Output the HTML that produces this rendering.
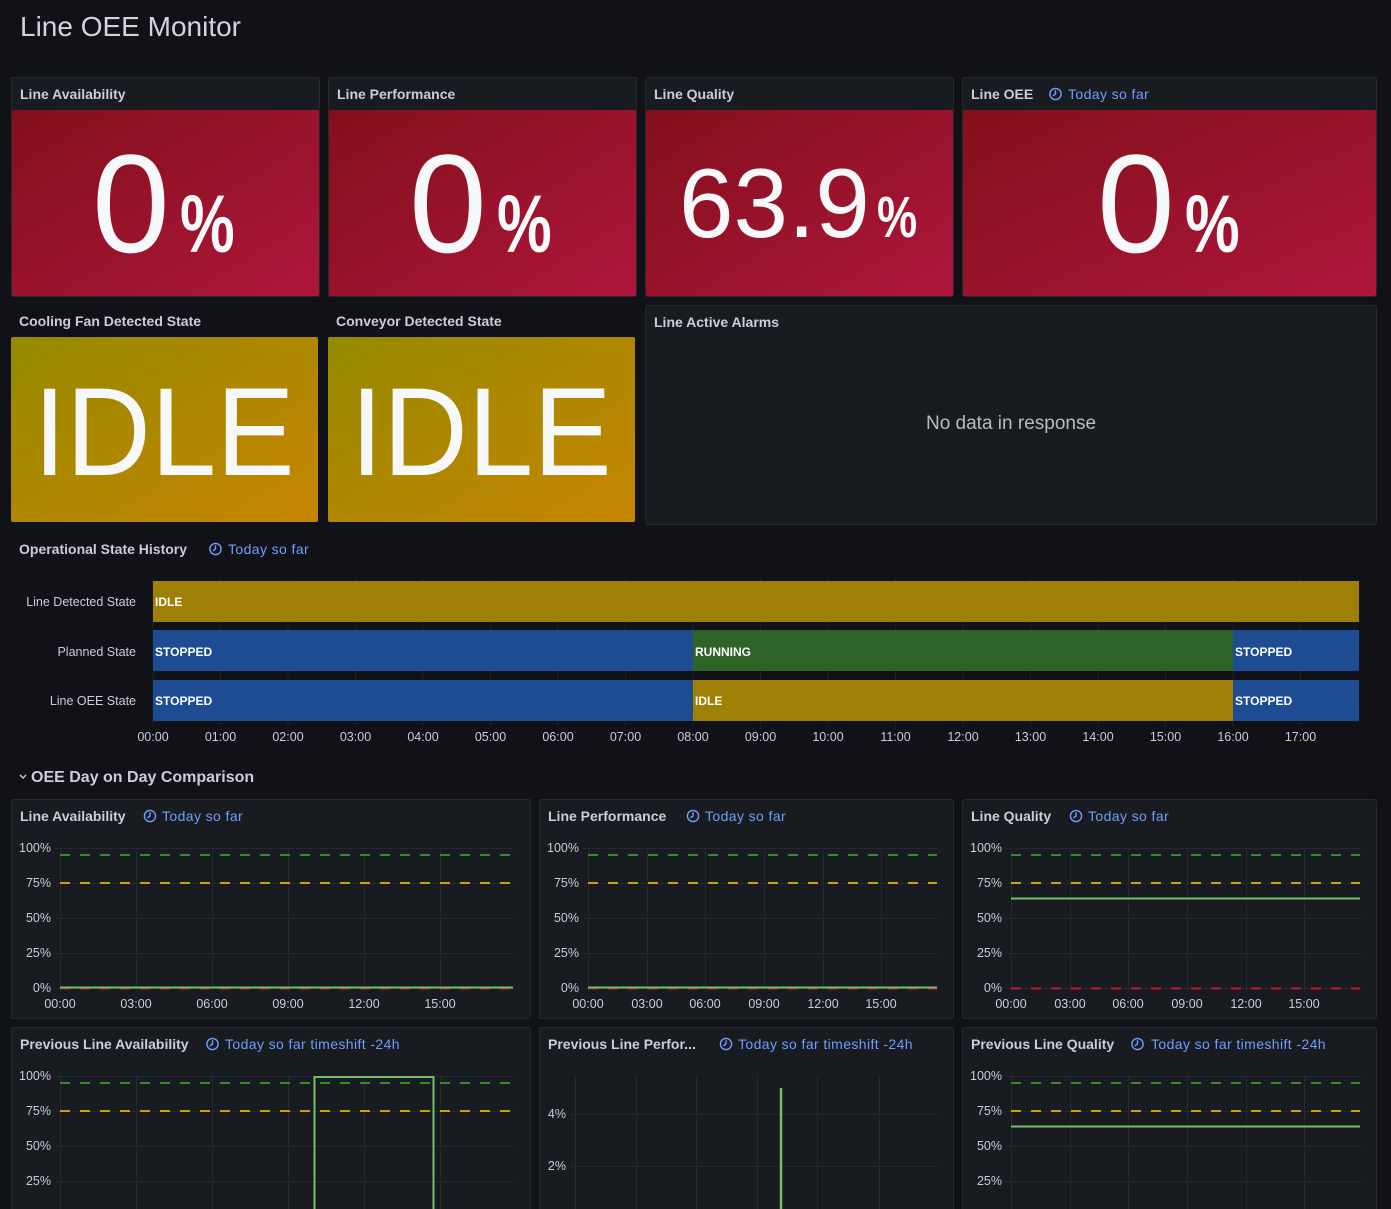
<!DOCTYPE html>
<html>
<head>
<meta charset="utf-8">
<style>
  html, body { margin:0; padding:0; background:#111217; }
  body { width:1391px; height:1209px; overflow:hidden; }
  svg { display:block; }
  text { font-family: "Liberation Sans", "DejaVu Sans", sans-serif; }
</style>
</head>
<body>
<svg width="1391" height="1209" viewBox="0 0 1391 1209" xmlns="http://www.w3.org/2000/svg">
  <defs>
    <linearGradient id="red" x1="0" y1="0" x2="1" y2="1">
      <stop offset="0" stop-color="#82101a"/>
      <stop offset="1" stop-color="#ae163c"/>
    </linearGradient>
    <linearGradient id="yel" x1="0" y1="0" x2="1" y2="1">
      <stop offset="0" stop-color="#958a00"/>
      <stop offset="1" stop-color="#c78500"/>
    </linearGradient>
    <g id="clk">
      <circle cx="0" cy="0" r="5.6" fill="none" stroke="#6e9fff" stroke-width="1.4"/>
      <path d="M0,-3.2 V0 L-2.2,1.6" fill="none" stroke="#6e9fff" stroke-width="1.4" stroke-linecap="round"/>
    </g>
  </defs>

  <rect x="0" y="0" width="1391" height="1209" fill="#111217"/>

  <!-- Title -->
  <text x="20" y="36" font-size="28" fill="#d3d3de">Line OEE Monitor</text>

  <!-- Row 1 stat panels -->
  <g>
    <rect x="11.5" y="77.5" width="308" height="219" rx="2" fill="#181b1f" stroke="#26282d"/>
    <rect x="12" y="110" width="307" height="186" rx="2" fill="url(#red)"/>
    <text x="20" y="99" font-size="14" font-weight="bold" fill="#ccccdc">Line Availability</text>
    <text x="92" y="252" font-size="140" fill="#f7f8fa">0</text>
    <text transform="translate(180,252) scale(0.75,1)" font-size="82" font-weight="bold" fill="#f7f8fa">%</text>

    <rect x="328.5" y="77.5" width="308" height="219" rx="2" fill="#181b1f" stroke="#26282d"/>
    <rect x="329" y="110" width="307" height="186" rx="2" fill="url(#red)"/>
    <text x="337" y="99" font-size="14" font-weight="bold" fill="#ccccdc">Line Performance</text>
    <text x="409" y="252" font-size="140" fill="#f7f8fa">0</text>
    <text transform="translate(497,252) scale(0.75,1)" font-size="82" font-weight="bold" fill="#f7f8fa">%</text>

    <rect x="645.5" y="77.5" width="308" height="219" rx="2" fill="#181b1f" stroke="#26282d"/>
    <rect x="646" y="110" width="307" height="186" rx="2" fill="url(#red)"/>
    <text x="654" y="99" font-size="14" font-weight="bold" fill="#ccccdc">Line Quality</text>
    <text x="679" y="237" font-size="98" fill="#f7f8fa">63.9</text>
    <text transform="translate(877,237) scale(0.78,1)" font-size="58" font-weight="bold" fill="#f7f8fa">%</text>

    <rect x="962.5" y="77.5" width="414" height="219" rx="2" fill="#181b1f" stroke="#26282d"/>
    <rect x="963" y="110" width="413" height="186" rx="2" fill="url(#red)"/>
    <text x="971" y="99" font-size="14" font-weight="bold" fill="#ccccdc">Line OEE</text>
    <use href="#clk" x="1055.5" y="94"/>
    <text x="1068" y="99" font-size="14" fill="#6e9fff" letter-spacing="0.4">Today so far</text>
    <text x="1097" y="252" font-size="140" fill="#f7f8fa">0</text>
    <text transform="translate(1185,252) scale(0.75,1)" font-size="82" font-weight="bold" fill="#f7f8fa">%</text>
  </g>

  <!-- Row 2 -->
  <g>
    <text x="19" y="326" font-size="14" font-weight="bold" fill="#ccccdc">Cooling Fan Detected State</text>
    <rect x="11" y="337" width="307" height="185" rx="2" fill="url(#yel)"/>
    <text transform="translate(164,475) scale(0.94,1)" text-anchor="middle" font-size="125" fill="#f7f8fa">IDLE</text>

    <text x="336" y="326" font-size="14" font-weight="bold" fill="#ccccdc">Conveyor Detected State</text>
    <rect x="328" y="337" width="307" height="185" rx="2" fill="url(#yel)"/>
    <text transform="translate(481,475) scale(0.94,1)" text-anchor="middle" font-size="125" fill="#f7f8fa">IDLE</text>

    <rect x="645.5" y="305.5" width="731" height="219" rx="2" fill="#181b1f" stroke="#26282d"/>
    <text x="654" y="327" font-size="14" font-weight="bold" fill="#ccccdc">Line Active Alarms</text>
    <text x="1011" y="429" text-anchor="middle" font-size="19" fill="#b9bac2">No data in response</text>
  </g>

  <!-- Operational State History -->
  <g>
    <text x="19" y="554" font-size="14" font-weight="bold" fill="#ccccdc">Operational State History</text>
    <use href="#clk" x="215.5" y="549"/>
    <text x="228" y="554" font-size="14" fill="#6e9fff" letter-spacing="0.4">Today so far</text>

    <g stroke="#1e2025" stroke-width="1">
      <line x1="153" y1="578" x2="153" y2="727"/>
      <line x1="220.5" y1="578" x2="220.5" y2="727"/>
      <line x1="288" y1="578" x2="288" y2="727"/>
      <line x1="355.5" y1="578" x2="355.5" y2="727"/>
      <line x1="423" y1="578" x2="423" y2="727"/>
      <line x1="490.5" y1="578" x2="490.5" y2="727"/>
      <line x1="558" y1="578" x2="558" y2="727"/>
      <line x1="625.5" y1="578" x2="625.5" y2="727"/>
      <line x1="693" y1="578" x2="693" y2="727"/>
      <line x1="760.5" y1="578" x2="760.5" y2="727"/>
      <line x1="828" y1="578" x2="828" y2="727"/>
      <line x1="895.5" y1="578" x2="895.5" y2="727"/>
      <line x1="963" y1="578" x2="963" y2="727"/>
      <line x1="1030.5" y1="578" x2="1030.5" y2="727"/>
      <line x1="1098" y1="578" x2="1098" y2="727"/>
      <line x1="1165.5" y1="578" x2="1165.5" y2="727"/>
      <line x1="1233" y1="578" x2="1233" y2="727"/>
      <line x1="1300.5" y1="578" x2="1300.5" y2="727"/>
    </g>

    <rect x="153" y="581" width="1206" height="41" fill="#a07f06"/>
    <rect x="153" y="630" width="540" height="41" fill="#1e4c93"/>
    <rect x="693" y="630" width="540" height="41" fill="#2e6327"/>
    <rect x="1233" y="630" width="126" height="41" fill="#1e4c93"/>
    <rect x="153" y="680" width="540" height="41" fill="#1e4c93"/>
    <rect x="693" y="680" width="540" height="41" fill="#a07f06"/>
    <rect x="1233" y="680" width="126" height="41" fill="#1e4c93"/>

    <g font-size="12" font-weight="bold" fill="#ffffff">
      <text x="155" y="606">IDLE</text>
      <text x="155" y="656">STOPPED</text>
      <text x="695" y="656">RUNNING</text>
      <text x="1235" y="656">STOPPED</text>
      <text x="155" y="705">STOPPED</text>
      <text x="695" y="705">IDLE</text>
      <text x="1235" y="705">STOPPED</text>
    </g>

    <g font-size="12.5" fill="#ccccdc" text-anchor="end">
      <text x="136" y="606">Line Detected State</text>
      <text x="136" y="656">Planned State</text>
      <text x="136" y="705">Line OEE State</text>
    </g>

    <g font-size="12.5" fill="#ccccdc" text-anchor="middle">
      <text x="153" y="741">00:00</text>
      <text x="220.5" y="741">01:00</text>
      <text x="288" y="741">02:00</text>
      <text x="355.5" y="741">03:00</text>
      <text x="423" y="741">04:00</text>
      <text x="490.5" y="741">05:00</text>
      <text x="558" y="741">06:00</text>
      <text x="625.5" y="741">07:00</text>
      <text x="693" y="741">08:00</text>
      <text x="760.5" y="741">09:00</text>
      <text x="828" y="741">10:00</text>
      <text x="895.5" y="741">11:00</text>
      <text x="963" y="741">12:00</text>
      <text x="1030.5" y="741">13:00</text>
      <text x="1098" y="741">14:00</text>
      <text x="1165.5" y="741">15:00</text>
      <text x="1233" y="741">16:00</text>
      <text x="1300.5" y="741">17:00</text>
    </g>
  </g>

  <!-- Section header -->
  <path d="M20,775 L23,778 L26,775" fill="none" stroke="#ccccdc" stroke-width="1.4"/>
  <text x="31" y="782" font-size="16" font-weight="bold" fill="#ccccdc">OEE Day on Day Comparison</text>

  <!-- ============ Row A charts ============ -->
  <!-- C1 Line Availability -->
  <g>
    <rect x="11.5" y="799.5" width="519" height="219" rx="2" fill="#181b1f" stroke="#26282d"/>
    <text x="20" y="821" font-size="14" font-weight="bold" fill="#ccccdc">Line Availability</text>
    <use href="#clk" x="150" y="816"/>
    <text x="162" y="821" font-size="14" fill="#6e9fff" letter-spacing="0.4">Today so far</text>
    <g stroke="#25282d" stroke-width="1">
      <line x1="56" y1="848.5" x2="514" y2="848.5"/>
      <line x1="56" y1="883.5" x2="514" y2="883.5"/>
      <line x1="56" y1="918.5" x2="514" y2="918.5"/>
      <line x1="56" y1="953.5" x2="514" y2="953.5"/>
      <line x1="56" y1="988.5" x2="514" y2="988.5"/>
      <line x1="60.5" y1="848" x2="60.5" y2="992"/>
      <line x1="136.5" y1="848" x2="136.5" y2="992"/>
      <line x1="212.5" y1="848" x2="212.5" y2="992"/>
      <line x1="288.5" y1="848" x2="288.5" y2="992"/>
      <line x1="364.5" y1="848" x2="364.5" y2="992"/>
      <line x1="440.5" y1="848" x2="440.5" y2="992"/>
    </g>
    <g stroke-width="2" stroke-dasharray="10,10" fill="none">
      <line x1="60" y1="855" x2="513" y2="855" stroke="#37872d"/>
      <line x1="60" y1="883" x2="513" y2="883" stroke="#c9a20b"/>
      <line x1="60" y1="988.5" x2="513" y2="988.5" stroke="#c4162a"/>
    </g>
    <line x1="60" y1="987.5" x2="513" y2="987.5" stroke="#73bf69" stroke-width="2"/>
    <g font-size="12.5" fill="#ccccdc" text-anchor="end">
      <text x="51" y="852">100%</text>
      <text x="51" y="887">75%</text>
      <text x="51" y="922">50%</text>
      <text x="51" y="957">25%</text>
      <text x="51" y="992">0%</text>
    </g>
    <g font-size="12.5" fill="#ccccdc" text-anchor="middle">
      <text x="60" y="1008">00:00</text>
      <text x="136" y="1008">03:00</text>
      <text x="212" y="1008">06:00</text>
      <text x="288" y="1008">09:00</text>
      <text x="364" y="1008">12:00</text>
      <text x="440" y="1008">15:00</text>
    </g>
  </g>

  <!-- C2 Line Performance -->
  <g>
    <rect x="539.5" y="799.5" width="414" height="219" rx="2" fill="#181b1f" stroke="#26282d"/>
    <text x="548" y="821" font-size="14" font-weight="bold" fill="#ccccdc">Line Performance</text>
    <use href="#clk" x="693" y="816"/>
    <text x="705" y="821" font-size="14" fill="#6e9fff" letter-spacing="0.4">Today so far</text>
    <g stroke="#25282d" stroke-width="1">
      <line x1="584" y1="848.5" x2="938" y2="848.5"/>
      <line x1="584" y1="883.5" x2="938" y2="883.5"/>
      <line x1="584" y1="918.5" x2="938" y2="918.5"/>
      <line x1="584" y1="953.5" x2="938" y2="953.5"/>
      <line x1="584" y1="988.5" x2="938" y2="988.5"/>
      <line x1="588.5" y1="848" x2="588.5" y2="992"/>
      <line x1="647.5" y1="848" x2="647.5" y2="992"/>
      <line x1="705.5" y1="848" x2="705.5" y2="992"/>
      <line x1="764.5" y1="848" x2="764.5" y2="992"/>
      <line x1="823.5" y1="848" x2="823.5" y2="992"/>
      <line x1="881.5" y1="848" x2="881.5" y2="992"/>
    </g>
    <g stroke-width="2" stroke-dasharray="10,10" fill="none">
      <line x1="588" y1="855" x2="937" y2="855" stroke="#37872d"/>
      <line x1="588" y1="883" x2="937" y2="883" stroke="#c9a20b"/>
      <line x1="588" y1="988.5" x2="937" y2="988.5" stroke="#c4162a"/>
    </g>
    <line x1="588" y1="987.5" x2="937" y2="987.5" stroke="#73bf69" stroke-width="2"/>
    <g font-size="12.5" fill="#ccccdc" text-anchor="end">
      <text x="579" y="852">100%</text>
      <text x="579" y="887">75%</text>
      <text x="579" y="922">50%</text>
      <text x="579" y="957">25%</text>
      <text x="579" y="992">0%</text>
    </g>
    <g font-size="12.5" fill="#ccccdc" text-anchor="middle">
      <text x="588" y="1008">00:00</text>
      <text x="647" y="1008">03:00</text>
      <text x="705" y="1008">06:00</text>
      <text x="764" y="1008">09:00</text>
      <text x="823" y="1008">12:00</text>
      <text x="881" y="1008">15:00</text>
    </g>
  </g>

  <!-- C3 Line Quality -->
  <g>
    <rect x="962.5" y="799.5" width="414" height="219" rx="2" fill="#181b1f" stroke="#26282d"/>
    <text x="971" y="821" font-size="14" font-weight="bold" fill="#ccccdc">Line Quality</text>
    <use href="#clk" x="1076" y="816"/>
    <text x="1088" y="821" font-size="14" fill="#6e9fff" letter-spacing="0.4">Today so far</text>
    <g stroke="#25282d" stroke-width="1">
      <line x1="1007" y1="848.5" x2="1361" y2="848.5"/>
      <line x1="1007" y1="883.5" x2="1361" y2="883.5"/>
      <line x1="1007" y1="918.5" x2="1361" y2="918.5"/>
      <line x1="1007" y1="953.5" x2="1361" y2="953.5"/>
      <line x1="1007" y1="988.5" x2="1361" y2="988.5"/>
      <line x1="1011.5" y1="848" x2="1011.5" y2="992"/>
      <line x1="1070.5" y1="848" x2="1070.5" y2="992"/>
      <line x1="1128.5" y1="848" x2="1128.5" y2="992"/>
      <line x1="1187.5" y1="848" x2="1187.5" y2="992"/>
      <line x1="1246.5" y1="848" x2="1246.5" y2="992"/>
      <line x1="1304.5" y1="848" x2="1304.5" y2="992"/>
    </g>
    <g stroke-width="2" stroke-dasharray="10,10" fill="none">
      <line x1="1011" y1="855" x2="1360" y2="855" stroke="#37872d"/>
      <line x1="1011" y1="883" x2="1360" y2="883" stroke="#c9a20b"/>
      <line x1="1011" y1="988.5" x2="1360" y2="988.5" stroke="#c4162a"/>
    </g>
    <line x1="1011" y1="898.5" x2="1360" y2="898.5" stroke="#73bf69" stroke-width="2"/>
    <g font-size="12.5" fill="#ccccdc" text-anchor="end">
      <text x="1002" y="852">100%</text>
      <text x="1002" y="887">75%</text>
      <text x="1002" y="922">50%</text>
      <text x="1002" y="957">25%</text>
      <text x="1002" y="992">0%</text>
    </g>
    <g font-size="12.5" fill="#ccccdc" text-anchor="middle">
      <text x="1011" y="1008">00:00</text>
      <text x="1070" y="1008">03:00</text>
      <text x="1128" y="1008">06:00</text>
      <text x="1187" y="1008">09:00</text>
      <text x="1246" y="1008">12:00</text>
      <text x="1304" y="1008">15:00</text>
    </g>
  </g>

  <!-- ============ Row B charts ============ -->
  <!-- PB1 Previous Line Availability -->
  <g>
    <rect x="11.5" y="1027.5" width="519" height="230" rx="2" fill="#181b1f" stroke="#26282d"/>
    <text x="20" y="1049" font-size="14" font-weight="bold" fill="#ccccdc">Previous Line Availability</text>
    <use href="#clk" x="212.5" y="1044"/>
    <text x="225" y="1049" font-size="14" fill="#6e9fff" letter-spacing="0.4">Today so far timeshift -24h</text>
    <g stroke="#25282d" stroke-width="1">
      <line x1="56" y1="1076.5" x2="514" y2="1076.5"/>
      <line x1="56" y1="1111.5" x2="514" y2="1111.5"/>
      <line x1="56" y1="1146.5" x2="514" y2="1146.5"/>
      <line x1="56" y1="1181.5" x2="514" y2="1181.5"/>
      <line x1="60.5" y1="1076" x2="60.5" y2="1209"/>
      <line x1="136.5" y1="1076" x2="136.5" y2="1209"/>
      <line x1="212.5" y1="1076" x2="212.5" y2="1209"/>
      <line x1="288.5" y1="1076" x2="288.5" y2="1209"/>
      <line x1="364.5" y1="1076" x2="364.5" y2="1209"/>
      <line x1="440.5" y1="1076" x2="440.5" y2="1209"/>
    </g>
    <g stroke-width="2" stroke-dasharray="10,10" fill="none">
      <line x1="60" y1="1083" x2="513" y2="1083" stroke="#37872d"/>
      <line x1="60" y1="1111" x2="513" y2="1111" stroke="#c9a20b"/>
    </g>
    <polyline points="314.5,1215 314.5,1077 433.5,1077 433.5,1215" fill="none" stroke="#73bf69" stroke-width="2"/>
    <g font-size="12.5" fill="#ccccdc" text-anchor="end">
      <text x="51" y="1080">100%</text>
      <text x="51" y="1115">75%</text>
      <text x="51" y="1150">50%</text>
      <text x="51" y="1185">25%</text>
    </g>
  </g>

  <!-- PB2 Previous Line Performance -->
  <g>
    <rect x="539.5" y="1027.5" width="414" height="230" rx="2" fill="#181b1f" stroke="#26282d"/>
    <text x="548" y="1049" font-size="14" font-weight="bold" fill="#ccccdc">Previous Line Perfor...</text>
    <use href="#clk" x="726" y="1044"/>
    <text x="738" y="1049" font-size="14" fill="#6e9fff" letter-spacing="0.4">Today so far timeshift -24h</text>
    <g stroke="#25282d" stroke-width="1">
      <line x1="571" y1="1114.5" x2="937" y2="1114.5"/>
      <line x1="571" y1="1166.5" x2="937" y2="1166.5"/>
      <line x1="575.5" y1="1076" x2="575.5" y2="1209"/>
      <line x1="636.5" y1="1076" x2="636.5" y2="1209"/>
      <line x1="696.5" y1="1076" x2="696.5" y2="1209"/>
      <line x1="757.5" y1="1076" x2="757.5" y2="1209"/>
      <line x1="817.5" y1="1076" x2="817.5" y2="1209"/>
      <line x1="879.5" y1="1076" x2="879.5" y2="1209"/>
    </g>
    <line x1="781" y1="1088" x2="781" y2="1209" stroke="#73bf69" stroke-width="2.5"/>
    <g font-size="12.5" fill="#ccccdc" text-anchor="end">
      <text x="566" y="1118">4%</text>
      <text x="566" y="1170">2%</text>
    </g>
  </g>

  <!-- PB3 Previous Line Quality -->
  <g>
    <rect x="962.5" y="1027.5" width="414" height="230" rx="2" fill="#181b1f" stroke="#26282d"/>
    <text x="971" y="1049" font-size="14" font-weight="bold" fill="#ccccdc">Previous Line Quality</text>
    <use href="#clk" x="1137.5" y="1044"/>
    <text x="1151" y="1049" font-size="14" fill="#6e9fff" letter-spacing="0.4">Today so far timeshift -24h</text>
    <g stroke="#25282d" stroke-width="1">
      <line x1="1007" y1="1076.5" x2="1361" y2="1076.5"/>
      <line x1="1007" y1="1111.5" x2="1361" y2="1111.5"/>
      <line x1="1007" y1="1146.5" x2="1361" y2="1146.5"/>
      <line x1="1007" y1="1181.5" x2="1361" y2="1181.5"/>
      <line x1="1011.5" y1="1076" x2="1011.5" y2="1209"/>
      <line x1="1070.5" y1="1076" x2="1070.5" y2="1209"/>
      <line x1="1128.5" y1="1076" x2="1128.5" y2="1209"/>
      <line x1="1187.5" y1="1076" x2="1187.5" y2="1209"/>
      <line x1="1246.5" y1="1076" x2="1246.5" y2="1209"/>
      <line x1="1304.5" y1="1076" x2="1304.5" y2="1209"/>
    </g>
    <g stroke-width="2" stroke-dasharray="10,10" fill="none">
      <line x1="1011" y1="1083" x2="1360" y2="1083" stroke="#37872d"/>
      <line x1="1011" y1="1111" x2="1360" y2="1111" stroke="#c9a20b"/>
    </g>
    <line x1="1011" y1="1126.5" x2="1360" y2="1126.5" stroke="#73bf69" stroke-width="2"/>
    <g font-size="12.5" fill="#ccccdc" text-anchor="end">
      <text x="1002" y="1080">100%</text>
      <text x="1002" y="1115">75%</text>
      <text x="1002" y="1150">50%</text>
      <text x="1002" y="1185">25%</text>
    </g>
  </g>
</svg>
</body>
</html>
